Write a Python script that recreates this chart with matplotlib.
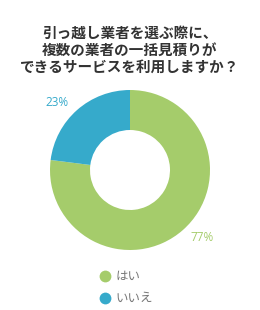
import matplotlib
matplotlib.use("Agg")
import matplotlib.pyplot as plt
from matplotlib.lines import Line2D
import numpy as np

plt.rcParams['font.family'] = ['Noto Sans CJK JP', 'DejaVu Sans']

title = "引っ越し業者を選ぶ際に、\n複数の業者の一括見積りが\nできるサービスを利用しますか？"
categories = ["はい", "いいえ"]
values = [77, 23]
colors = ["#a5cc6b", "#36aacb"]

fig = plt.figure(figsize=(2.6, 3.1), dpi=100)
ax = fig.add_axes([50/260, 60/310, 160/260, 160/310])
wedges, texts, autotexts = ax.pie(
    values, colors=colors, startangle=90, counterclock=False,
    radius=1.0, wedgeprops=dict(width=0.5, edgecolor='none'),
    autopct='%d%%', pctdistance=1.24)
label_angles = [-43, 137]
for t, c, a in zip(autotexts, colors, label_angles):
    t.set_color(c)
    t.set_fontsize(8.5)
    t.set_family(['Open Sans', 'DejaVu Sans'])
    t.set_position((1.24 * np.cos(np.radians(a)), 1.24 * np.sin(np.radians(a))))
ax.set_xlim(-1, 1)
ax.set_ylim(-1, 1)
ax.set_aspect('equal')

fig.text(0.5, 1 - 25/310, title, ha='center', va='top', fontsize=10.5,
         fontweight='bold', color='#333333', linespacing=1.05)

handles = [Line2D([0], [0], marker='o', linestyle='none', markersize=8.5,
                  markerfacecolor=c, markeredgecolor='none') for c in colors]
leg = fig.legend(handles, categories, loc='upper left',
                 bbox_to_anchor=(92/260, 1 - 265/310), frameon=False,
                 handletextpad=0.3, labelspacing=0.75, fontsize=9,
                 labelcolor='#777777', handlelength=1.2, borderaxespad=0)

fig.savefig("out.png", dpi=100, facecolor='white')
